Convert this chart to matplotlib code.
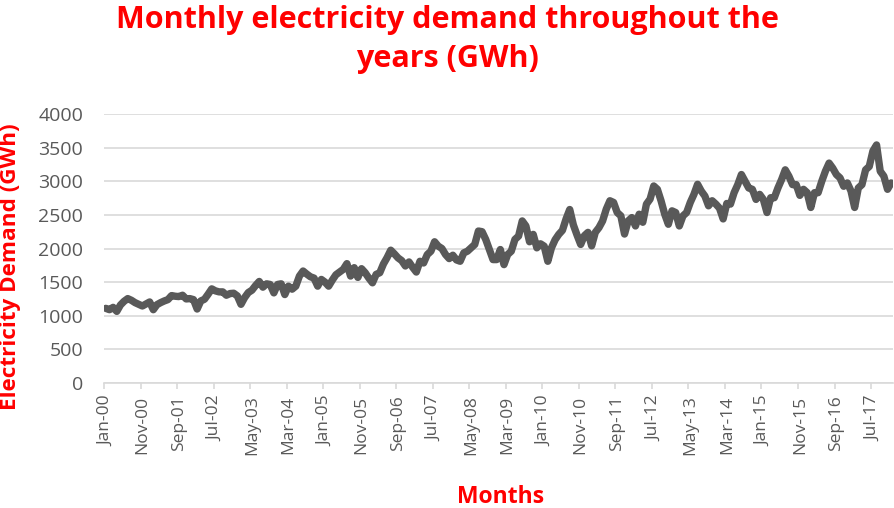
import matplotlib
matplotlib.use('Agg')
import matplotlib.pyplot as plt
import numpy as np

# monthly demand (GWh), Jan-00 .. Dec-17
d2000 = [1110, 1090, 1125, 1065, 1160, 1215, 1255, 1230, 1195, 1170, 1145, 1175]
d2001 = [1205, 1090, 1165, 1195, 1220, 1240, 1300, 1290, 1285, 1305, 1250, 1255]
d2002 = [1240, 1100, 1220, 1245, 1320, 1400, 1370, 1355, 1355, 1305, 1330, 1335]
d2003 = [1295, 1170, 1270, 1345, 1380, 1450, 1510, 1425, 1475, 1465, 1340, 1465]
d2004 = [1475, 1315, 1440, 1395, 1440, 1590, 1665, 1620, 1580, 1560, 1440, 1540]
d2005 = [1500, 1440, 1530, 1610, 1650, 1690, 1775, 1590, 1715, 1570, 1700, 1640]
d2006 = [1560, 1490, 1615, 1640, 1770, 1865, 1975, 1920, 1860, 1820, 1740, 1800]
d2007 = [1720, 1650, 1810, 1785, 1910, 1960, 2100, 2035, 2000, 1910, 1850, 1900]
d2008 = [1830, 1810, 1935, 1960, 2010, 2060, 2260, 2250, 2135, 1985, 1835, 1835]
d2009 = [1985, 1760, 1910, 1960, 2135, 2185, 2410, 2335, 2100, 2210, 2010, 2070]
d2010 = [2035, 1810, 2010, 2130, 2210, 2270, 2440, 2580, 2350, 2200, 2060, 2190]
d2011 = [2240, 2040, 2240, 2310, 2410, 2585, 2710, 2685, 2535, 2485, 2215, 2410]
d2012 = [2460, 2335, 2510, 2390, 2660, 2735, 2930, 2880, 2710, 2510, 2360, 2560]
d2013 = [2535, 2335, 2485, 2535, 2685, 2805, 2955, 2855, 2780, 2635, 2710, 2660]
d2014 = [2600, 2440, 2670, 2660, 2830, 2950, 3100, 3000, 2900, 2880, 2730, 2805]
d2015 = [2730, 2535, 2755, 2755, 2900, 3025, 3170, 3075, 2950, 2950, 2790, 2880]
d2016 = [2830, 2610, 2830, 2830, 3000, 3150, 3270, 3195, 3100, 3050, 2925, 2975]
d2017 = [2855, 2610, 2900, 2950, 3170, 3220, 3450, 3540, 3150, 3075, 2880, 2975]

years = [d2000, d2001, d2002, d2003, d2004, d2005, d2006, d2007, d2008,
         d2009, d2010, d2011, d2012, d2013, d2014, d2015, d2016, d2017]
demand = np.concatenate(years)

month_names = ['Jan', 'Feb', 'Mar', 'Apr', 'May', 'Jun',
               'Jul', 'Aug', 'Sep', 'Oct', 'Nov', 'Dec']
months = [f"{month_names[i % 12]}-{i // 12:02d}" for i in range(len(demand))]

y_ticks = [0, 500, 1000, 1500, 2000, 2500, 3000, 3500, 4000]
label_step = 10

RED = '#ff0000'
GREY_TXT = '#595959'
GRID = '#d9d9d9'

fig = plt.figure(figsize=(8.95, 5.08), dpi=100)
ax = fig.add_axes([104 / 895, 1 - 383 / 508, 789 / 895, 269 / 508])

x = np.arange(len(demand))
ax.plot(x, demand, color='#595959', linewidth=5.3, solid_joinstyle='round',
        solid_capstyle='round', zorder=3)

ax.set_xlim(-0.5, len(demand) - 0.5)
ax.set_ylim(0, 4000)
ax.set_yticks(y_ticks)
ax.set_yticklabels([str(v) for v in y_ticks])
ax.yaxis.grid(True, color=GRID, linewidth=1.2)
ax.set_axisbelow(True)

major = x[::label_step]
ax.set_xticks(major)
ax.set_xticklabels([months[i] for i in major], rotation=90)
ax.set_xticks(major - 0.5, minor=True)

for side in ('top', 'right', 'left'):
    ax.spines[side].set_visible(False)
ax.spines['bottom'].set_color(GRID)
ax.spines['bottom'].set_linewidth(1.2)

ax.tick_params(axis='y', length=0, pad=15, labelsize=14, labelcolor=GREY_TXT)
ax.tick_params(axis='x', which='major', length=0, pad=9, labelsize=12.5,
               labelcolor=GREY_TXT)
ax.tick_params(axis='x', which='minor', length=4, width=1.2, color=GRID)

for lab in ax.get_xticklabels() + ax.get_yticklabels():
    lab.set_fontfamily('Open Sans')

fig.text(0.5, 1 - 5 / 508, 'Monthly electricity demand throughout the\nyears (GWh)',
         ha='center', va='top', color=RED, fontsize=22, fontweight='bold',
         family='Open Sans', linespacing=1.38)
fig.text(11 / 895, 1 - 267 / 508, 'Electricity Demand (GWh)', rotation=90,
         ha='center', va='center', color=RED, fontsize=16.2, fontweight='bold',
         family='Open Sans')
fig.text(501 / 895, 1 - 497 / 508, 'Months', ha='center', va='center',
         color=RED, fontsize=16.5, fontweight='bold', family='Open Sans')

fig.savefig('out.png', dpi=100)
